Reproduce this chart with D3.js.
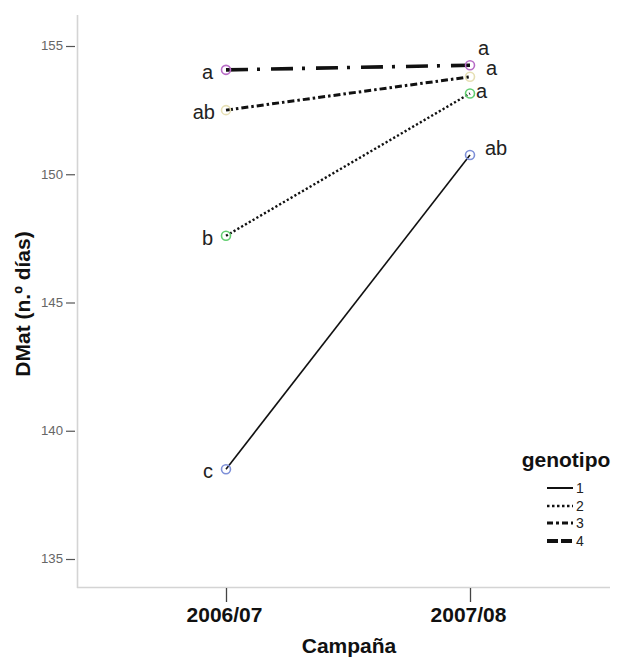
<!DOCTYPE html>
<html>
<head>
<meta charset="utf-8">
<script src="https://cdn.jsdelivr.net/npm/d3@7/dist/d3.min.js"></script>
<style>
  body { margin: 0; background: #fff; }
  svg { display: block; font-family: Arial, "Liberation Sans", sans-serif; }
</style>
</head>
<body>
<svg id="chart" width="624" height="659"></svg>
<script>
// Campaigns on the x axis
const campaigns = ["2006/07", "2007/08"];
// Genotypes and mean DMat (days) per campaign
const genotypes = ["1", "2", "3", "4"];
const dmat1 = [138.5, 150.75];
const dmat2 = [147.6, 153.15];
const dmat3 = [152.5, 153.8];
const dmat4 = [154.07, 154.25];
// Significance letters per genotype and campaign
const letters1 = ["c", "ab"];
const letters2 = ["b", "a"];
const letters3 = ["ab", "a"];
const letters4 = ["a", "a"];
const yTicks = [135, 140, 145, 150, 155];

const series = [
  { g: genotypes[0], v: dmat1, lab: letters1, color: "#7e90d8", dash: null, width: 1.6, legDash: null, legWidth: 2 },
  { g: genotypes[1], v: dmat2, lab: letters2, color: "#63cf72", dash: "2.2,2.2", width: 2.4, legDash: "2.5,2.5", legWidth: 2.6 },
  { g: genotypes[2], v: dmat3, lab: letters3, color: "#e6dfb4", dash: "7,3,2.5,3", width: 3, legDash: "6,3,3,3", legWidth: 3 },
  { g: genotypes[3], v: dmat4, lab: letters4, color: "#b86cc6", dash: "22,9,3,11", width: 3.6, legDash: "11,3", legWidth: 4 }
];

const svg = d3.select("#chart");
const x = d3.scalePoint().domain(campaigns).range([226, 470]);
const y = d3.scaleLinear().domain([135, 155]).range([559, 46]);

// Axis frame lines
svg.append("line").attr("x1", 77.5).attr("x2", 77.5).attr("y1", 15).attr("y2", 588)
  .attr("stroke", "#d4d4d4").attr("stroke-width", 1.6);
svg.append("line").attr("x1", 77).attr("x2", 610).attr("y1", 587.5).attr("y2", 587.5)
  .attr("stroke", "#d4d4d4").attr("stroke-width", 1.6);

// Y axis
const yAxis = svg.append("g").attr("transform", "translate(75,0)")
  .call(d3.axisLeft(y).tickValues(yTicks).tickSize(9).tickPadding(3).tickFormat(d3.format("d")));
yAxis.select(".domain").remove();
yAxis.selectAll(".tick line").attr("stroke", "#555").attr("stroke-width", 1.2);
yAxis.selectAll(".tick text").attr("fill", "#666").attr("font-size", 12)
  .attr("textLength", 22).attr("lengthAdjust", "spacingAndGlyphs");

// X axis
const xAxis = svg.append("g").attr("transform", "translate(0,587)")
  .call(d3.axisBottom(x).tickSize(15).tickPadding(0));
xAxis.select(".domain").remove();
xAxis.selectAll(".tick line").attr("stroke", "#444").attr("stroke-width", 1.3).attr("y1", 1);
xAxis.selectAll(".tick text").attr("fill", "#111").attr("font-size", 21).attr("font-weight", "bold")
  .attr("dy", null).attr("y", 35).attr("dx", -2);

// Axis titles
svg.append("text").attr("transform", "translate(30,304) rotate(-90)")
  .attr("text-anchor", "middle").attr("font-size", 21).attr("font-weight", "bold").attr("fill", "#111")
  .text("DMat (n.º días)");
svg.append("text").attr("x", 349).attr("y", 653).attr("text-anchor", "middle")
  .attr("font-size", 21).attr("font-weight", "bold").attr("fill", "#111").text("Campaña");

// Lines and markers
const line = d3.line().x((d, i) => x(campaigns[i])).y(d => y(d));
series.forEach(s => {
  svg.append("path").datum(s.v).attr("d", line).attr("fill", "none")
    .attr("stroke", "#111").attr("stroke-width", s.width)
    .attr("stroke-dasharray", s.dash);
});
series.forEach(s => {
  svg.selectAll(null).data(s.v).enter().append("circle")
    .attr("cx", (d, i) => x(campaigns[i])).attr("cy", d => y(d)).attr("r", 4.5)
    .attr("fill", "none").attr("stroke", s.color).attr("stroke-width", 1.6);
});

// Significance letters (offsets from each marker)
const labelOffsets = [
  [[-13, 9], [15, 0]],
  [[-13, 9], [6, 5]],
  [[-11, 9], [16, -2]],
  [[-13, 9], [8, -10]]
];
series.forEach((s, k) => {
  s.lab.forEach((t, i) => {
    const [dx, dy] = labelOffsets[k][i];
    svg.append("text")
      .attr("x", x(campaigns[i]) + dx).attr("y", y(s.v[i]) + dy)
      .attr("text-anchor", i === 0 ? "end" : "start")
      .attr("font-size", 20).attr("fill", "#222").text(t);
  });
});

// Legend
const lg = svg.append("g");
lg.append("text").attr("x", 566).attr("y", 467).attr("text-anchor", "middle")
  .attr("font-size", 21).attr("font-weight", "bold").attr("fill", "#111").text("genotipo");
const legRows = [488, 506, 523, 541];
series.forEach((s, i) => {
  const yy = legRows[i];
  lg.append("line").attr("x1", 547).attr("x2", 573).attr("y1", yy).attr("y2", yy)
    .attr("stroke", "#111").attr("stroke-width", s.legWidth)
    .attr("stroke-dasharray", s.legDash);
  lg.append("text").attr("x", 576).attr("y", yy + 5).attr("font-size", 14).attr("fill", "#222").text(s.g);
});
</script>
</body>
</html>
